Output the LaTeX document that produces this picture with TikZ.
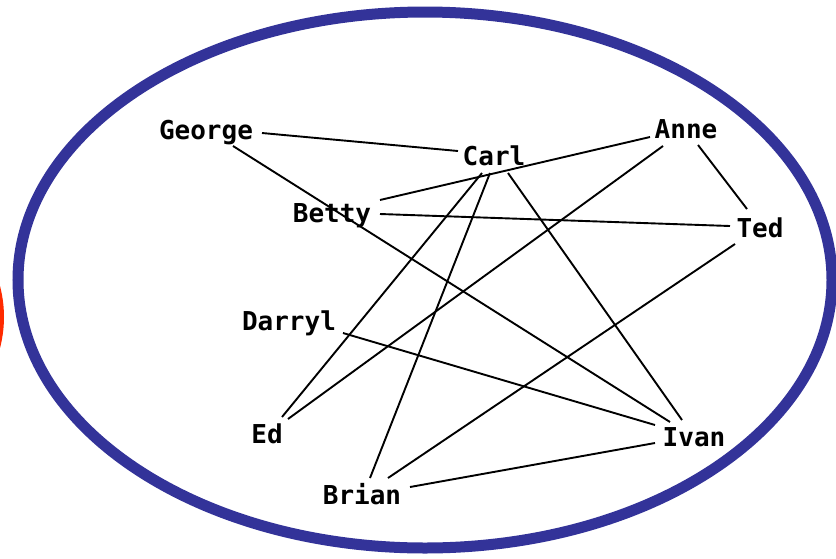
\documentclass[tikz,border=0pt]{standalone}
\usepackage{fontspec}
\newfontfamily\dmono{DejaVu Sans Mono}
\definecolor{ringblue}{HTML}{333399}
\definecolor{ringred}{HTML}{FF2A00}
\begin{document}
\begin{tikzpicture}[x=1pt,y=-1pt,
  person/.style={anchor=base,inner sep=0pt,font=\dmono\bfseries\fontsize{26}{26}\selectfont},
  link/.style={line width=1.9pt,black}]
\useasboundingbox (0,0) rectangle (836,558);
\clip (0,0) rectangle (836,558);
\fill[white] (0,0) rectangle (836,558);
\draw[ringred,line width=11pt] (-401.5,317) ellipse [x radius=400,y radius=214];
\draw[ringblue,line width=11pt] (425,280) ellipse [x radius=407,y radius=268];

\node[person] (George) at (206,139) {George};
\node[person] (Carl)   at (494,165) {Carl};
\node[person] (Anne)   at (686,138) {Anne};
\node[person] (Betty)  at (332,222) {Betty};
\node[person] (Ted)    at (760,237) {Ted};
\node[person] (Darryl) at (289,330) {Darryl};
\node[person] (Ed)     at (267,443) {Ed};
\node[person] (Brian)  at (362,504) {Brian};
\node[person] (Ivan)   at (694,446) {Ivan};

\draw[link] ([shift={(56,-6)}]George.base) -- ([shift={(-36,-14)}]Carl.base);
\draw[link] ([shift={(27,7)}]George.base) -- ([shift={(-24,-24)}]Ivan.base);
\draw[link] ([shift={(48,-22)}]Betty.base) -- ([shift={(-36,-1)}]Anne.base);
\draw[link] ([shift={(48,-8)}]Betty.base) -- ([shift={(-30,-11)}]Ted.base);
\draw[link] ([shift={(-12,8)}]Carl.base) -- ([shift={(15,-26)}]Ed.base);
\draw[link] ([shift={(-4,8)}]Carl.base) -- ([shift={(8,-26)}]Brian.base);
\draw[link] ([shift={(14,8)}]Carl.base) -- ([shift={(-12,-26)}]Ivan.base);
\draw[link] ([shift={(-23,8)}]Anne.base) -- ([shift={(21,-24)}]Ed.base);
\draw[link] ([shift={(12,7)}]Anne.base) -- ([shift={(-13,-28)}]Ted.base);
\draw[link] ([shift={(-25,7)}]Ted.base) -- ([shift={(26,-26)}]Brian.base);
\draw[link] ([shift={(54,3)}]Darryl.base) -- ([shift={(-39,-21)}]Ivan.base);
\draw[link] ([shift={(48,-17)}]Brian.base) -- ([shift={(-39,-3)}]Ivan.base);
\end{tikzpicture}
\end{document}
